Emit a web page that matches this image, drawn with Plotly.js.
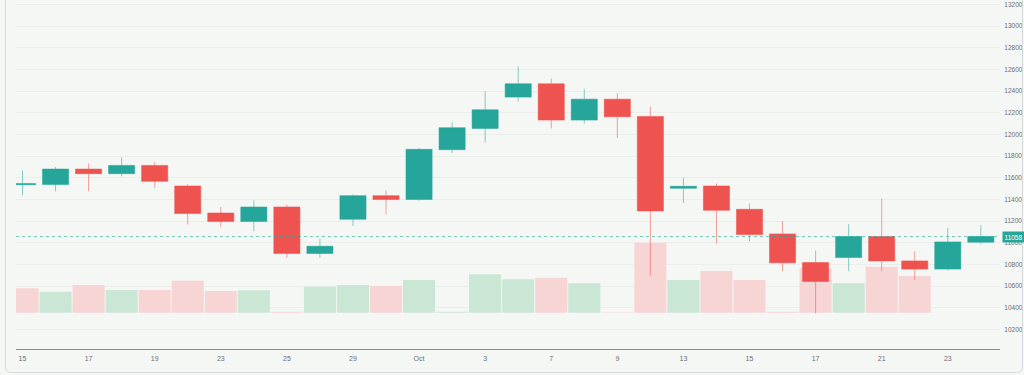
<!DOCTYPE html>
<html>
<head>
<meta charset="utf-8">
<script src="https://cdn.plot.ly/plotly-3.0.1.min.js"></script>
<style>
  html, body { margin: 0; padding: 0; background: #f5f7f5; }
  #chart { width: 1024px; height: 375px; }
</style>
</head>
<body>
<div id="chart"></div>
<script>
// ---- data ----
const dates = [
  '2019-09-15','2019-09-16','2019-09-17','2019-09-18','2019-09-19',
  '2019-09-22','2019-09-23','2019-09-24','2019-09-25','2019-09-26',
  '2019-09-29','2019-09-30','2019-10-01','2019-10-02','2019-10-03',
  '2019-10-06','2019-10-07','2019-10-08','2019-10-09','2019-10-10',
  '2019-10-13','2019-10-14','2019-10-15','2019-10-16','2019-10-17',
  '2019-10-20','2019-10-21','2019-10-22','2019-10-23','2019-10-24'
];
const open  = [11535,11537,11680,11638,11714,11524,11275,11196,11330,10901,
               11217,11435,11399,11859,12055,12344,12467,12132,12325,12166,
               11503,11524,11309,11082,10818,10864,11058,10833,10757,11005];
const high  = [11668,11699,11730,11788,11745,11540,11330,11392,11353,11039,
               11447,11484,11874,12111,12399,12626,12516,12421,12380,12258,
               11601,11546,11362,11201,10929,11171,11408,10922,11137,11162];
const low   = [11438,11475,11475,11613,11505,11168,11146,11107,10861,10861,
               11155,11263,11386,11828,11926,12304,12055,12099,11966,10695,
               11367,10993,11015,10738,10349,10738,10738,10655,10745,10987];
const close = [11545,11680,11638,11714,11567,11270,11196,11330,10901,10968,
               11435,11399,11862,12062,12227,12467,12132,12325,12163,11294,
               11521,11300,11076,10815,10643,11058,10833,10757,11008,11058];
const volume = [244,210,277,227,227,320,217,224,10,260,
                277,267,327,10,384,334,350,294,5,700,
                327,417,327,10,450,294,460,367,0,0];
const prevClose = 11560;           // close before the first candle
const lastPrice = 11058;
const tickDates  = ['2019-09-15','2019-09-17','2019-09-19','2019-09-23','2019-09-25',
                    '2019-09-29','2019-10-01','2019-10-03','2019-10-07','2019-10-09',
                    '2019-10-13','2019-10-15','2019-10-17','2019-10-21','2019-10-23'];
const tickLabels = ['15','17','19','23','25','29','Oct','3','7','9','13','15','17','21','23'];

// ---- styles ----
const UP = '#26a69a', DOWN = '#ef5350';
const VOL_UP = '#c9e7d4', VOL_DOWN = '#f7d5d5';
const BG = '#f5f7f5';

const volColors = close.map((c, i) => {
  const p = i === 0 ? prevClose : close[i - 1];
  return c >= p ? VOL_UP : VOL_DOWN;
});

const volTrace = {
  type: 'bar', x: dates, y: volume, yaxis: 'y',
  marker: { color: volColors, line: { width: 0 } },
  hoverinfo: 'skip'
};

const candleTrace = {
  type: 'candlestick', x: dates, open: open, high: high, low: low, close: close,
  yaxis: 'y2',
  increasing: { line: { color: 'rgba(38,166,154,0.55)', width: 1 }, fillcolor: UP },
  decreasing: { line: { color: 'rgba(239,83,80,0.55)', width: 1 }, fillcolor: DOWN },
  whiskerwidth: 0,
  hoverinfo: 'skip'
};

// paper-coordinate helpers for the container frame (plot: x 16..1000, y 0..349)
const L = 16, R = 24, T = 0, B = 26, W = 1024 - L - R, H = 375 - T - B;
const px = v => (v - L) / W;
const py = v => (H + T - v) / H;
const rX = 6 / W, rY = 6 / H;
const fl = px(5.5), fr = px(1022.5), fb = py(372.5), ft = py(-3);
const framePath = `M ${fl},${ft} L ${fl},${fb + rY} Q ${fl},${fb} ${fl + rX},${fb} ` +
                  `L ${fr - rX},${fb} Q ${fr},${fb} ${fr},${fb + rY} L ${fr},${ft}`;

const tickFont = { family: 'Liberation Sans, Arial, sans-serif', size: 7, color: '#6a6d74' };

const layout = {
  width: 1024, height: 375,
  margin: { l: L, r: R, t: T, b: B, pad: 0 },
  paper_bgcolor: BG, plot_bgcolor: BG,
  showlegend: false, hovermode: false, dragmode: false,
  bargap: 0.03,
  boxgap: 0.21, boxgroupgap: 0,
  xaxis: {
    type: 'category', range: [-0.197, 29.58],
    rangeslider: { visible: false },
    showgrid: false, zeroline: false,
    showline: true, linecolor: '#878a92', linewidth: 1,
    ticks: 'outside', ticklen: 3, tickcolor: 'rgba(0,0,0,0)',
    tickmode: 'array', tickvals: tickDates, ticktext: tickLabels,
    tickfont: tickFont, fixedrange: true
  },
  yaxis: {
    range: [-363, 3127], visible: false, showgrid: false, zeroline: false, fixedrange: true
  },
  yaxis2: {
    overlaying: 'y', side: 'right', range: [10020, 13240],
    tickmode: 'linear', tick0: 10200, dtick: 200, tickformat: 'd',
    ticklabeloverflow: 'allow',
    showgrid: true, gridcolor: 'rgba(0,0,0,0.035)', gridwidth: 1,
    zeroline: false, showline: false, ticks: 'outside', ticklen: 2,
    tickcolor: 'rgba(0,0,0,0)', tickfont: { family: 'Liberation Sans, Arial, sans-serif', size: 6.5, color: '#6a6d74' },
    fixedrange: true
  },
  shapes: [
    { type: 'line', xref: 'paper', x0: 0, x1: 0.9985, yref: 'y2', y0: lastPrice, y1: lastPrice,
      line: { color: 'rgba(38,166,154,0.6)', width: 1, dash: 'dot' } },
    { type: 'path', xref: 'paper', yref: 'paper', path: framePath,
      line: { color: '#d6d9de', width: 1 } }
  ],
  annotations: [
    { xref: 'paper', x: 1, xanchor: 'left', xshift: 2, yref: 'y2', y: lastPrice, yanchor: 'middle',
      text: String(lastPrice), showarrow: false, bgcolor: UP, borderpad: 1.5,
      font: { family: 'Liberation Sans, Arial, sans-serif', size: 6.5, color: '#ffffff' } }
  ]
};

Plotly.newPlot('chart', [volTrace, candleTrace], layout, { staticPlot: true, displayModeBar: false });
</script>
</body>
</html>
